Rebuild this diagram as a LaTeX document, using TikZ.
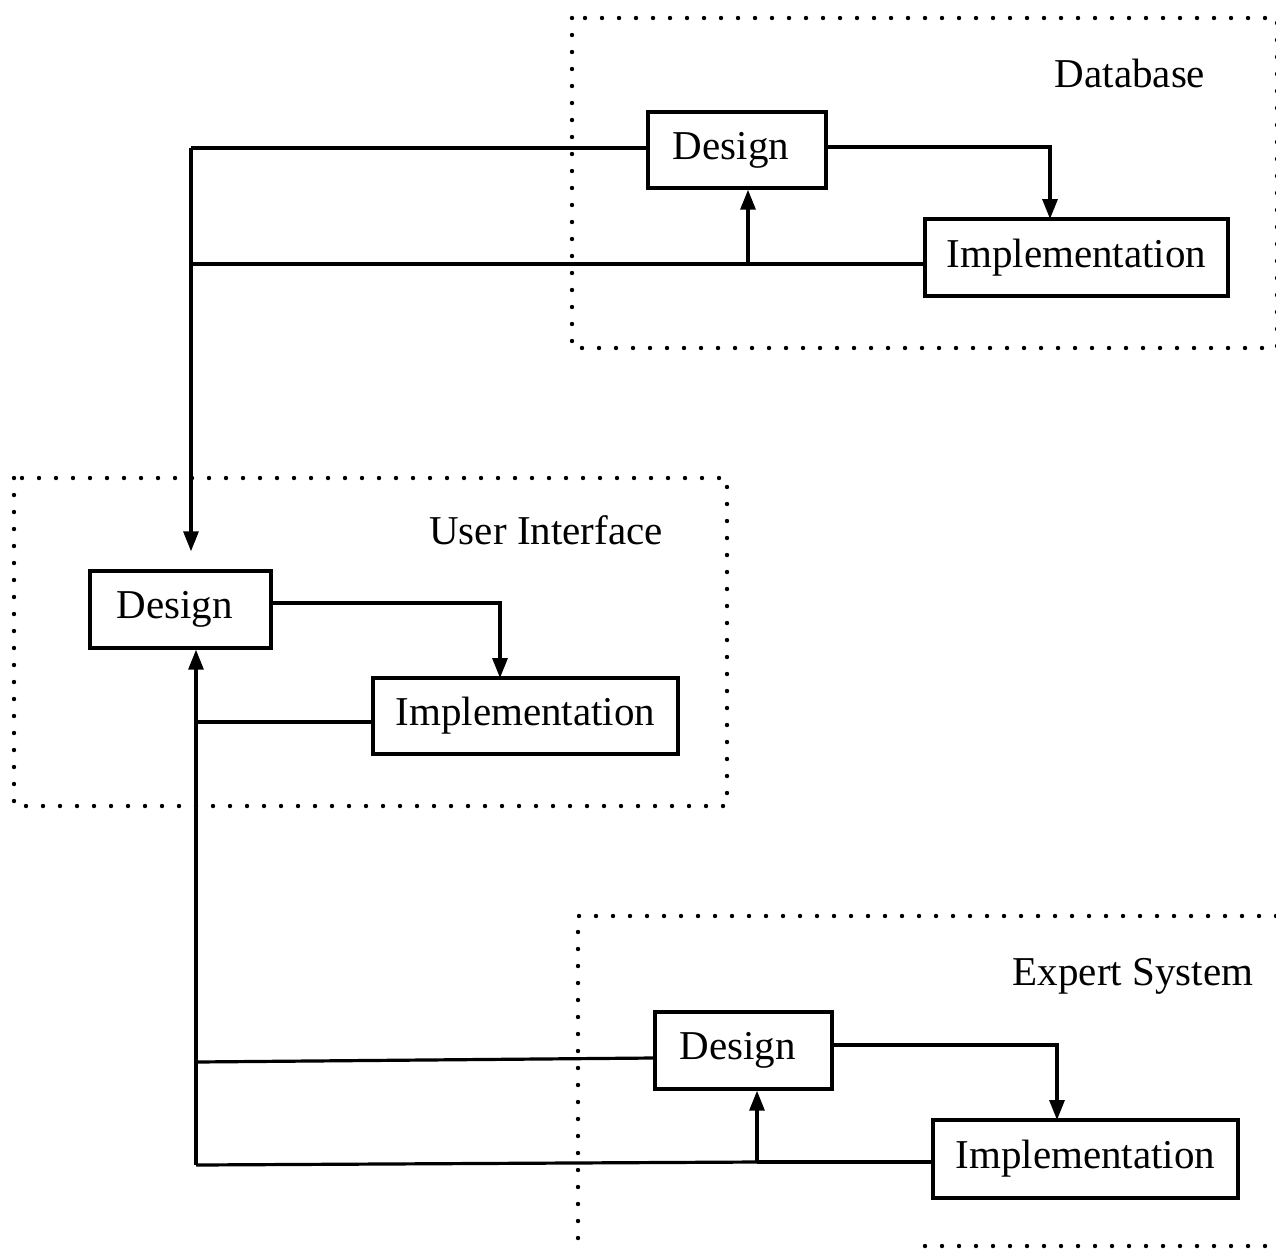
\documentclass[tikz,border=0pt]{standalone}
\usepackage{fontspec}
\setmainfont{Liberation Serif}
\usetikzlibrary{arrows.meta,calc}

\tikzset{
  stagebox/.style={draw, line width=3.4pt, inner sep=0pt, font=\fontsize{41}{48}\selectfont},
  grouplabel/.style={anchor=base, font=\fontsize{41}{48}\selectfont},
  groupframe/.style={line width=4.4pt, line cap=round, dash pattern=on 0pt off 17pt},
  link/.style={line width=3.2pt},
  flow/.style={line width=3.2pt, -{Triangle[length=20pt,width=15pt]}}
}

\begin{document}
\begin{tikzpicture}[x=1pt,y=-1pt]
\useasboundingbox (0,0) rectangle (1276,1248);
\fill[white] (0,0) rectangle (1276,1248);

% group frames
\draw[groupframe] (572,18) rectangle (1277,348);
\draw[groupframe] (14,478) rectangle (727,806);
\draw[groupframe] (1276,916) -- (578,916) -- (578,1240);
\draw[groupframe] (925,1246) -- (1276,1246);

% group titles
\node[grouplabel] (dbt) at (1130,87) {Database};
\node[grouplabel] (uit) at (546,544) {User Interface};
\node[grouplabel] (est) at (1133,985) {Expert System};

% stages
\node[stagebox, minimum width=178pt, minimum height=76pt] (dbd) at (737,150) {Design\hspace*{12pt}};
\node[stagebox, minimum width=303pt, minimum height=77pt] (dbi) at (1076.5,257.5) {Implementation};
\node[stagebox, minimum width=181pt, minimum height=77pt] (uid) at (180.5,609.5) {Design\hspace*{12pt}};
\node[stagebox, minimum width=305pt, minimum height=76pt] (uii) at (525.5,716) {Implementation};
\node[stagebox, minimum width=177pt, minimum height=77pt] (esd) at (743.5,1050.5) {Design\hspace*{12pt}};
\node[stagebox, minimum width=305pt, minimum height=78pt] (esi) at (1085.5,1159) {Implementation};

% bend points
\coordinate (dbJoin) at (748,264);
\coordinate (dbTop) at (191,148);
\coordinate (dbLow) at (191,264);
\coordinate (esJoin) at (757,1162);
\coordinate (esLow) at (196,1165);
\coordinate (esMid) at (196,1062);
\coordinate (uiMid) at (196,722);

% Database internal flow
\draw[flow] (dbd.east |- 0,147) -| (1050,219);
\draw[link] (dbi.west |- dbJoin) -- (dbJoin);
\draw[flow] (dbJoin) -- (dbJoin |- dbd.south);

% Database to User Interface
\draw[link] (dbd.west |- dbTop) -- (dbTop);
\draw[link] (dbJoin) -- (dbLow);
\draw[flow, shorten >=18pt] (dbTop) -- (dbTop |- uid.north);

% User Interface internal flow
\draw[flow] (uid.east |- 0,603) -| (500,678);
\draw[link] (uii.west |- uiMid) -- (uiMid);

% Expert System internal flow
\draw[flow] (esd.east |- 0,1045) -| (1057,1120);
\draw[link] (esi.west |- esJoin) -- (esJoin);
\draw[flow] (esJoin) -- (esJoin |- esd.south);

% Expert System to User Interface
\draw[link] (esd.west |- 0,1058) -- (esMid);
\draw[link] (esJoin) -- (esLow);
\draw[flow] (esLow) -- (esLow |- uid.south);
\end{tikzpicture}
\end{document}
